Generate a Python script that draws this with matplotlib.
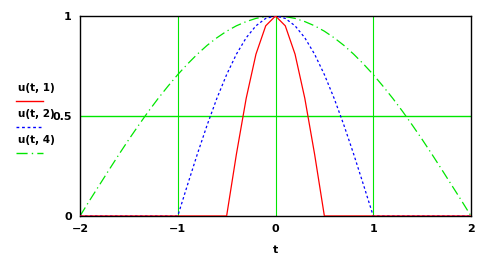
import matplotlib
matplotlib.use("Agg")
import matplotlib.pyplot as plt
from matplotlib.lines import Line2D

# sample points along t
t = [-2.0, -1.9, -1.8, -1.7, -1.6, -1.5, -1.4, -1.3, -1.2, -1.1, -1.0,
     -0.9, -0.8, -0.7, -0.6, -0.5, -0.4, -0.3, -0.2, -0.1, 0.0,
     0.1, 0.2, 0.3, 0.4, 0.5, 0.6, 0.7, 0.8, 0.9, 1.0,
     1.1, 1.2, 1.3, 1.4, 1.5, 1.6, 1.7, 1.8, 1.9, 2.0]

# u(t,1) - red, narrowest pulse
u1 = [0, 0, 0, 0, 0, 0, 0, 0, 0, 0, 0,
      0, 0, 0, 0, 0, 0.309, 0.588, 0.809, 0.951, 1,
      0.951, 0.809, 0.588, 0.309, 0, 0, 0, 0, 0, 0,
      0, 0, 0, 0, 0, 0, 0, 0, 0, 0]

# u(t,2) - blue
u2 = [0, 0, 0, 0, 0, 0, 0, 0, 0, 0, 0,
      0.156, 0.309, 0.454, 0.588, 0.707, 0.809, 0.891, 0.951, 0.988, 1,
      0.988, 0.951, 0.891, 0.809, 0.707, 0.588, 0.454, 0.309, 0.156, 0,
      0, 0, 0, 0, 0, 0, 0, 0, 0, 0]

# u(t,4) - green, widest
u4 = [0, 0.079, 0.156, 0.233, 0.309, 0.383, 0.454, 0.523, 0.588, 0.649, 0.707,
      0.760, 0.809, 0.853, 0.891, 0.924, 0.951, 0.972, 0.988, 0.997, 1,
      0.997, 0.988, 0.972, 0.951, 0.924, 0.891, 0.853, 0.809, 0.760, 0.707,
      0.649, 0.588, 0.523, 0.454, 0.383, 0.309, 0.233, 0.156, 0.079, 0]

marker_y = 0.5
grid_x = [-1, 0, 1]
x_ticks = [-2, -1, 0, 1, 2]
y_ticks = [0, 0.5, 1]
labels = ["u(t, 1)", "u(t, 2)", "u(t, 4)"]

RED = "#ff0000"
BLUE = "#0000ff"
GREEN = "#00e600"

fig = plt.figure(figsize=(4.92, 2.54), dpi=100)
ax = fig.add_axes([80 / 492, 1 - 216 / 254, 391 / 492, 200 / 254])

# grid lines and the 0.5 marker
for gx in grid_x:
    ax.axvline(gx, color=GREEN, lw=0.8, zorder=1)
ax.axhline(marker_y, color=GREEN, lw=1.0, zorder=1)

ax.plot(t, u4, color=GREEN, lw=0.9, dashes=(8, 3, 1, 3), zorder=2)
ax.plot(t, u2, color=BLUE, lw=0.9, dashes=(2, 2), zorder=3)
ax.plot(t, u1, color=RED, lw=0.9, zorder=4)

ax.set_xlim(-2, 2)
ax.set_ylim(0, 1)
ax.set_xticks(x_ticks)
ax.set_xticklabels(["\u22122", "\u22121", "0", "1", "2"])
ax.set_yticks(y_ticks)
ax.set_yticklabels(["0", "0.5", "1"])
ax.tick_params(length=0, labelsize=8, pad=6)
for lab in ax.get_xticklabels() + ax.get_yticklabels():
    lab.set_fontweight("bold")
for sp in ax.spines.values():
    sp.set_linewidth(1.0)
    sp.set_color("black")

ax.set_xlabel("t", fontsize=8, fontweight="bold", labelpad=8)

# Mathcad-style legend: label above a short line sample
styles = [dict(color=RED, lw=1.0),
          dict(color=BLUE, lw=1.0, dashes=(2, 2)),
          dict(color=GREEN, lw=1.0, dashes=(8, 3, 1, 3))]
text_y = [88, 114, 140]
line_y = [101, 127, 153]
for lbl, ty, ly, st in zip(labels, text_y, line_y, styles):
    fig.text(18 / 492, 1 - ty / 254, lbl, fontsize=7.5, fontweight="bold",
             va="center", ha="left")
    fig.add_artist(Line2D([16 / 492, 43 / 492], [1 - ly / 254, 1 - ly / 254],
                          transform=fig.transFigure, **st))

fig.savefig("out.png", dpi=100)
